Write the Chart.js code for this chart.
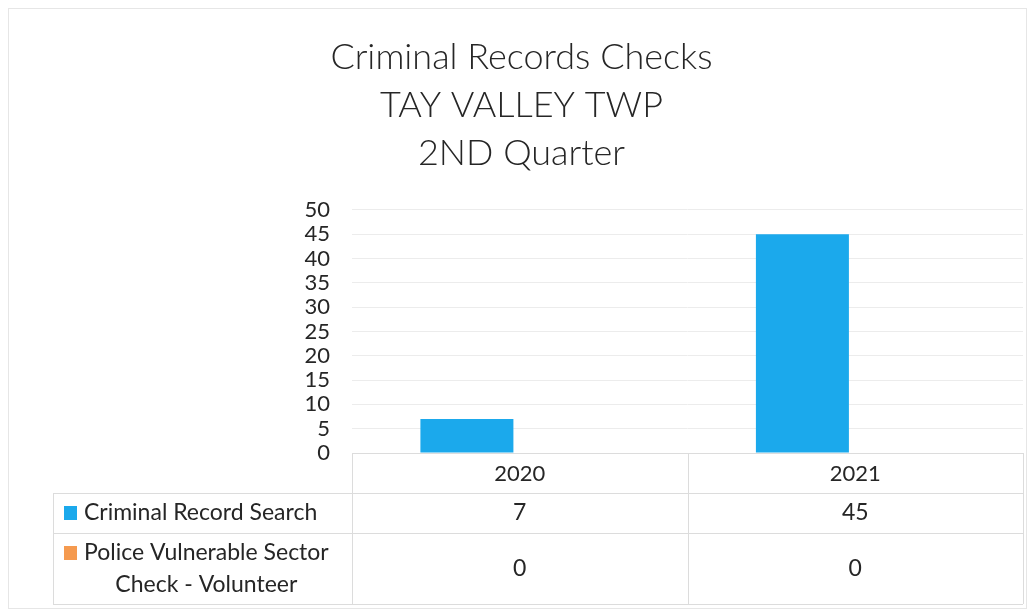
<!DOCTYPE html>
<html>
<head>
<meta charset="utf-8">
<script src="https://cdn.jsdelivr.net/npm/chart.js@4.4.1/dist/chart.umd.min.js"></script>
<style>
  html, body { margin: 0; padding: 0; background: #ffffff; }
  #wrap { width: 1034px; height: 613px; position: relative; }
</style>
</head>
<body>
<div id="wrap"><canvas id="c" width="1034" height="613"></canvas></div>
<script>
const titleLines = ['Criminal Records Checks', 'TAY VALLEY TWP', '2ND Quarter'];
const categories = ['2020', '2021'];
const seriesNames = ['Criminal Record Search', 'Police Vulnerable Sector Check - Volunteer'];
const criminalRecordSearch = [7, 45];
const policeVulnerableSector = [0, 0];
const seriesColors = ['#1BA9EC', '#F59A4F'];
const yMin = 0, yMax = 50, yStep = 5;

const FONT = 'Lato, "Open Sans", sans-serif';
const TEXT = '#262626';
const LINE = '#dcdcdc';

const tablePlugin = {
  id: 'dataTable',
  afterDraw(chart) {
    const ctx = chart.ctx;
    const x = chart.scales.x;
    const area = chart.chartArea;
    const left = 53;
    const right = area.right;
    const top = area.bottom;
    const headerBottom = 493;
    const rowBottoms = [533, 604];
    ctx.save();
    ctx.strokeStyle = LINE;
    ctx.lineWidth = 1;
    ctx.beginPath();
    [headerBottom].concat(rowBottoms).forEach(yy => {
      ctx.moveTo(left, yy + 0.5); ctx.lineTo(right, yy + 0.5);
    });
    ctx.moveTo(left + 0.5, headerBottom); ctx.lineTo(left + 0.5, rowBottoms[rowBottoms.length - 1]);
    const n = categories.length;
    const catW = (area.right - area.left) / n;
    for (let i = 0; i <= n; i++) {
      const xx = Math.round(area.left + i * catW) + 0.5;
      ctx.moveTo(xx, top); ctx.lineTo(xx, rowBottoms[rowBottoms.length - 1]);
    }
    ctx.stroke();

    ctx.font = '23px ' + FONT;
    ctx.fillStyle = TEXT;
    ctx.textBaseline = 'middle';
    const datasets = chart.data.datasets;
    let rowTop = headerBottom;
    datasets.forEach((ds, di) => {
      const rb = rowBottoms[di];
      const cy = (rowTop + rb) / 2;
      const words = ds.label.split(' ');
      const lines = [];
      let cur = '';
      words.forEach(w => {
        const t = cur ? cur + ' ' + w : w;
        if (ctx.measureText(t).width > 262 && cur) { lines.push(cur); cur = w; } else cur = t;
      });
      if (cur) lines.push(cur);
      const lh = 32;
      const widest = Math.max(...lines.map(l => ctx.measureText(l).width));
      const textLeft = 84;
      const firstY = cy - (lines.length - 1) * lh / 2;
      ctx.textAlign = 'center';
      lines.forEach((l, li) => {
        ctx.fillStyle = TEXT;
        ctx.fillText(l, textLeft + widest / 2, firstY + li * lh);
      });
      ctx.fillStyle = ds.backgroundColor;
      ctx.fillRect(64, Math.round(firstY - 7), 13, 14);
      ctx.fillStyle = TEXT;
      ds.data.forEach((v, i) => {
        ctx.fillText(String(v), x.getPixelForValue(i), cy);
      });
      rowTop = rb;
    });
    ctx.strokeStyle = '#e6e6e6';
    ctx.strokeRect(8.5, 8.5, 1018, 600);
    ctx.restore();
  }
};

new Chart(document.getElementById('c'), {
  type: 'bar',
  data: {
    labels: categories,
    datasets: [
      { label: seriesNames[0], data: criminalRecordSearch, backgroundColor: seriesColors[0] },
      { label: seriesNames[1], data: policeVulnerableSector, backgroundColor: seriesColors[1] }
    ]
  },
  options: {
    responsive: false,
    animation: false,
    devicePixelRatio: 1,
    layout: { padding: { left: 20, right: 11, top: 0, bottom: 9 } },
    datasets: { bar: { categoryPercentage: 0.63, barPercentage: 0.88 } },
    plugins: {
      legend: { display: false },
      tooltip: { enabled: false },
      title: {
        display: true,
        text: titleLines,
        color: TEXT,
        font: { family: FONT, size: 36, weight: 300, lineHeight: 1.333 },
        padding: { top: 33, bottom: 33 }
      }
    },
    scales: {
      x: {
        grid: { display: false, drawTicks: false },
        border: { display: true, color: LINE },
        ticks: { color: TEXT, font: { family: FONT, size: 22 }, padding: 8 },
        afterFit(s) { s.height = 151; }
      },
      y: {
        min: yMin, max: yMax,
        grid: { color: '#ececec', drawTicks: false },
        border: { display: false },
        ticks: { stepSize: yStep, autoSkip: false, color: TEXT, font: { family: FONT, size: 22, lineHeight: 1 }, padding: 22 },
        afterFit(s) { s.width = 332; }
      }
    }
  },
  plugins: [tablePlugin]
});
</script>
</body>
</html>
